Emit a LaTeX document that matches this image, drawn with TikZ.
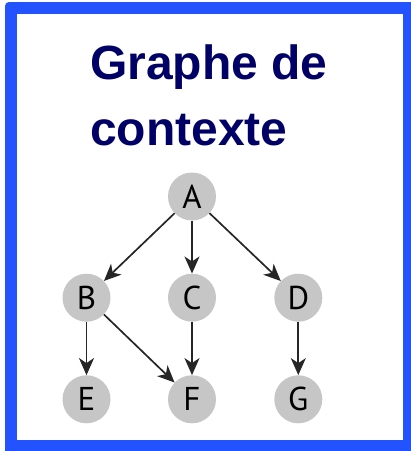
\documentclass[tikz,border=0pt]{standalone}
\usepackage{fontspec}
\setmainfont{Liberation Sans}
\newfontfamily\vertexfont{PT Sans}
\usetikzlibrary{arrows.meta}
\definecolor{frameblue}{HTML}{2353FF}
\definecolor{titlenavy}{HTML}{000066}
\definecolor{vertexgrey}{HTML}{C6C6C6}
\definecolor{edgegrey}{HTML}{262626}
\begin{document}
\begin{tikzpicture}[x=1pt,y=-1pt,
  vertex/.style={circle,fill=vertexgrey,minimum size=48pt,inner sep=0pt,
    font=\vertexfont\fontsize{33}{33}\selectfont,text=black},
  edge/.style={draw=edgegrey,line width=1.7pt,
    -{Stealth[length=17pt,width=15pt,inset=5pt]}},
  title/.style={anchor=base west,inner sep=0pt,text=titlenavy,
    font=\bfseries\fontsize{48}{48}\selectfont}]
\useasboundingbox (0,0) rectangle (411,451);
% blue frame around a white panel
\fill[frameblue,rounded corners=4pt] (5,2) rectangle (416,456);
\fill[white] (16.7,14) rectangle (402.7,440.3);

% heading
\node[title] (t1) at (90,79) {Graphe de};
\node[title] (t2) at (90,145.5) {contexte};

% vertices
\node[vertex] (A) at (192,196.5) {A};
\node[vertex] (B) at (86.5,297.7) {B};
\node[vertex] (C) at (192,297.7) {C};
\node[vertex] (D) at (298.3,297.7) {D};
\node[vertex] (E) at (86.5,399.3) {E};
\node[vertex] (F) at (192,399.3) {F};
\node[vertex] (G) at (298.3,399.3) {G};

% edges
\draw[edge] (A) -- (B);
\draw[edge] (A) -- (C);
\draw[edge] (A) -- (D);
\draw[edge] (B) -- (E);
\draw[edge] (B) -- (F);
\draw[edge] (C) -- (F);
\draw[edge] (D) -- (G);
\end{tikzpicture}
\end{document}
